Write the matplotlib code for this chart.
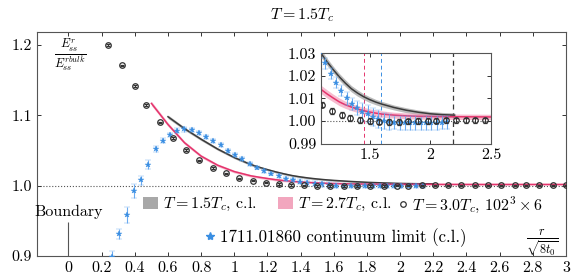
import numpy as np
import matplotlib
matplotlib.use('Agg')
import matplotlib.pyplot as plt
from matplotlib.patches import Patch
from matplotlib.lines import Line2D
from matplotlib.legend import Legend
from matplotlib.ticker import FuncFormatter

plt.rcParams['font.family'] = 'serif'
plt.rcParams['font.serif'] = ['cmr10']
plt.rcParams['mathtext.fontset'] = 'cm'
plt.rcParams['axes.formatter.use_mathtext'] = True
plt.rcParams['font.size'] = 11.5

# lattice data T = 3.0 Tc, 102^3 x 6
lat_x = [0.24, 0.32, 0.40, 0.47, 0.55, 0.63, 0.71, 0.79, 0.87, 0.95, 1.03, 1.11,
         1.19, 1.27, 1.34, 1.42, 1.50, 1.58, 1.66, 1.74, 1.82, 1.90, 1.98, 2.05,
         2.13, 2.21, 2.29, 2.37, 2.45, 2.53, 2.61, 2.69, 2.76, 2.84, 2.92, 3.00]
lat_y = [1.200, 1.171, 1.142, 1.115, 1.090, 1.068, 1.051, 1.036, 1.025, 1.0175, 1.0104, 1.0073,
         1.0045, 1.0027, 1.0013, 1.0004, 1.0000, 0.9997, 0.9996, 0.9996, 0.9998, 1.0000, 1.0001, 1.0002,
         1.0003, 1.0003, 1.0003, 1.0003, 1.0003, 1.0003, 1.0003, 1.0003, 1.0003, 1.0003, 1.0003, 1.0003]
lat_err = [0.0012] * 36

# 1711.01860 continuum limit
ref_x = [0.263, 0.306, 0.350, 0.394, 0.437, 0.481, 0.525, 0.568, 0.612, 0.656, 0.699,
         0.743, 0.787, 0.830, 0.874, 0.917, 0.961, 1.005, 1.048, 1.092, 1.136, 1.179,
         1.223, 1.267, 1.310, 1.354, 1.397, 1.441, 1.485, 1.528, 1.572, 1.616, 1.659,
         1.703, 1.747, 1.790, 1.834, 1.877, 1.921, 1.965, 2.008, 2.052, 2.096, 2.139]
ref_y = [0.898, 0.931, 0.958, 0.992, 1.0075, 1.030, 1.052, 1.064, 1.072, 1.078, 1.080,
         1.079, 1.0753, 1.0687, 1.0634, 1.0573, 1.0497, 1.0435, 1.0374, 1.0307, 1.0255, 1.0210,
         1.0170, 1.0135, 1.0100, 1.0075, 1.0058, 1.0042, 1.0030, 1.0018, 1.0008, 1.0000, 0.9995,
         0.9993, 0.9992, 0.9992, 0.9991, 0.9991, 0.9990, 0.9991, 0.9992, 0.9992, 0.9993, 0.9994]
ref_err = [0.009, 0.007, 0.011, 0.010, 0.006, 0.006, 0.004, 0.0035, 0.0035, 0.0035, 0.0035,
           0.003, 0.003, 0.003, 0.003, 0.003, 0.003, 0.003, 0.003, 0.003, 0.0025, 0.0025,
           0.0025, 0.0025, 0.0027, 0.0028, 0.003, 0.004, 0.004, 0.004, 0.004, 0.0035, 0.0035,
           0.003, 0.003, 0.003, 0.003, 0.003, 0.003, 0.003, 0.003, 0.003, 0.003, 0.003]

# continuum limit T = 1.5 Tc
cl15_x = [0.60, 0.70, 0.80, 0.90, 1.00, 1.10, 1.15, 1.20, 1.25, 1.30, 1.35,
          1.40, 1.45, 1.50, 1.55, 1.60, 1.70, 1.80, 1.90, 2.00, 2.10, 2.20]
cl15_y = [1.098, 1.081, 1.066, 1.052, 1.040, 1.0300, 1.0262, 1.0228, 1.0196, 1.0168, 1.0143,
          1.0124, 1.0108, 1.0095, 1.0084, 1.0075, 1.0060, 1.0048, 1.0039, 1.0032, 1.0028, 1.0026]
cl15_band = [0.0025, 0.0022, 0.0020, 0.0018, 0.0017, 0.0016, 0.0016, 0.0015, 0.0015, 0.0015, 0.0014,
             0.0014, 0.0013, 0.0013, 0.0012, 0.0012, 0.0011, 0.0011, 0.0010, 0.0010, 0.0010, 0.0010]

# continuum limit T = 2.7 Tc
cl27_x = [0.50, 0.60, 0.70, 0.80, 0.90, 1.00, 1.10, 1.15, 1.20, 1.25, 1.30, 1.35,
          1.40, 1.45, 1.50, 1.55, 1.60, 1.70, 1.80, 1.90, 2.00, 2.20, 2.50, 3.00]
cl27_y = [1.117, 1.087, 1.061, 1.042, 1.029, 1.0200, 1.0140, 1.0120, 1.0102, 1.0085, 1.0072, 1.0062,
          1.0053, 1.0046, 1.0040, 1.0035, 1.0031, 1.0026, 1.0023, 1.0021, 1.0020, 1.0019, 1.0018, 1.0018]
cl27_band = [0.0030, 0.0026, 0.0023, 0.0021, 0.0020, 0.0019, 0.0018, 0.0018, 0.0017, 0.0017, 0.0016, 0.0016,
             0.0015, 0.0015, 0.0014, 0.0014, 0.0014, 0.0013, 0.0013, 0.0013, 0.0012, 0.0012, 0.0012, 0.0012]

cut_x = [1.45, 1.59, 2.19]

grey_line, grey_band = '#3a3a3a', '#8f8f8f'
pink_line, pink_band = '#e5336c', '#f090b0'
blue, blue_err = '#3a8ee2', '#6aaaf0'
ink = '#333333'


def draw(a):
    a.fill_between(cl15_x, np.array(cl15_y) - cl15_band, np.array(cl15_y) + cl15_band,
                   color=grey_band, alpha=0.6, lw=0, zorder=1)
    a.fill_between(cl27_x, np.array(cl27_y) - cl27_band, np.array(cl27_y) + cl27_band,
                   color=pink_band, alpha=0.6, lw=0, zorder=1)
    a.plot(cl15_x, cl15_y, color=grey_line, lw=1.1, zorder=2)
    a.plot(cl27_x, cl27_y, color=pink_line, lw=1.1, zorder=2)
    a.errorbar(ref_x, ref_y, yerr=ref_err, fmt='*', color=blue, ms=4, mew=0.3,
               ecolor=blue_err, elinewidth=0.8, capsize=2, capthick=0.8, zorder=3)
    a.errorbar(lat_x, lat_y, yerr=lat_err, fmt='o', mfc='none', mec=ink, ms=4, mew=0.9,
               ecolor=ink, elinewidth=0.7, capsize=1.5, capthick=0.7, zorder=4)
    a.axhline(1.0, ls=':', color='#555555', lw=0.8, zorder=0)
    a.tick_params(direction='in', length=3, width=0.7, top=True, right=True, colors=ink,
                  labelcolor='black', labelsize=11.5, pad=3.5)
    for s in a.spines.values():
        s.set_color('#555555')
        s.set_linewidth(0.8)


fig = plt.figure(figsize=(5.75, 2.77), dpi=100)
ax = fig.add_axes([0.0643, 0.0758, 0.9200, 0.8087])
draw(ax)
ax.set_xlim(-0.19, 3.0)
ax.set_ylim(0.9, 1.2185)
ax.set_xticks(np.round(np.arange(0, 3.01, 0.2), 1))
ax.set_yticks([0.9, 1.0, 1.1, 1.2])
ax.xaxis.set_major_formatter(FuncFormatter(lambda v, p: f'{v:.1f}'.rstrip('0').rstrip('.') if v else '0'))
ax.yaxis.set_major_formatter(FuncFormatter(lambda v, p: f'{v:.1f}'))
ax.set_title('$T = 1.5T_c$', fontsize=11.5, pad=9)

ax.text(0.062, 0.893, r'$\frac{E^{r}_{ss}}{E^{rbulk}_{ss}}$', transform=ax.transAxes,
        ha='center', va='center', fontsize=12.5)
ax.text(0.955, 0.054, r'$\frac{r}{\sqrt{8t_0}}$', transform=ax.transAxes,
        ha='center', va='center', fontsize=12.5)

boundary_x, boundary_top = 0.0, 0.948
ax.vlines(boundary_x, 0.9, boundary_top, color='#555555', lw=0.8)
ax.text(boundary_x, 0.963, 'Boundary', ha='center', va='center', fontsize=11.5)


def entry(handle, label, x, y, hl=0.95, size=11.5):
    leg = Legend(ax, [handle], [label], loc='center left', bbox_to_anchor=(x, y),
                 frameon=False, borderpad=0, borderaxespad=0, handlelength=hl,
                 handleheight=0.85, handletextpad=0.3, fontsize=size)
    ax.add_artist(leg)


entry(Patch(color='#a8a8a8', lw=0), '$T = 1.5T_c$, c.l.', 0.200, 0.228)
entry(Patch(color='#f2a6be', lw=0), '$T = 2.7T_c$, c.l.', 0.455, 0.228)
entry(Line2D([], [], ls='none', marker='o', mfc='none', mec=ink, ms=4, mew=0.9),
      r'$T = 3.0T_c$, $102^3 \times 6$', 0.684, 0.228, hl=0.5)
entry(Line2D([], [], ls='none', marker='*', color=blue, ms=6),
      '1711.01860 continuum limit (c.l.)', 0.320, 0.080, hl=0.5, size=12.2)

axin = fig.add_axes([0.5583, 0.4816, 0.2957, 0.3260])
draw(axin)
for xc, c, lw in zip(cut_x, [pink_line, blue, grey_line], [0.7, 0.7, 0.9]):
    axin.axvline(xc, ls=(0, (4, 3)), color=c, lw=lw, zorder=0.5)
axin.set_xlim(1.1, 2.5)
axin.set_ylim(0.99, 1.03)
axin.set_xticks([1.5, 2.0, 2.5])
axin.set_yticks([0.99, 1.00, 1.01, 1.02, 1.03])
axin.xaxis.set_major_formatter(FuncFormatter(lambda v, p: f'{v:.1f}'.rstrip('0').rstrip('.')))
axin.yaxis.set_major_formatter(FuncFormatter(lambda v, p: f'{v:.2f}'))

plt.savefig('out.png', dpi=100)
plt.close()
